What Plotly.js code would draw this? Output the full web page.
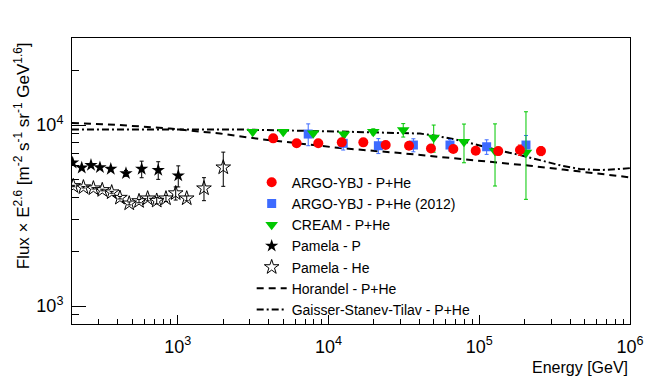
<!DOCTYPE html>
<html>
<head>
<meta charset="utf-8">
<script src="https://cdn.plot.ly/plotly-3.0.1.min.js"></script>
<style>
  body { margin: 0; background: #fff; }
  #grafico { width: 664px; height: 382px; }
</style>
</head>
<body>
<div id="grafico"></div>
<script>
// ARGO-YBJ - P+He
const argoE = [4300, 6150, 8560, 12250, 17030, 23970, 34230, 47860, 67300, 94800, 133700, 186200, 256800];
const argoF = [8444, 7927, 7927, 8023, 8023, 7755, 7686, 7413, 7365, 7206, 7178, 7275, 7178];
const argoErr = [150, 150, 150, 170, 180, 200, 220, 250, 280, 300, 350, 480, 400];

// ARGO-YBJ - P+He (2012)
const argo12E = [7340, 12530, 21430, 36590, 63970, 112000, 204200];
const argo12F = [8918, 7927, 7686, 7755, 7755, 7586, 7755];
const argo12Err = [1230, 650, 730, 640, 560, 700, 1000];

// CREAM - P+He
const creamE = [3143, 5012, 7925, 12680, 19830, 31330, 49880, 79240, 127300, 204200];
const creamF = [9183, 9183, 8996, 8884, 9183, 9383, 8530, 8087, 7178, 7050];
const creamErrUp = [200, 220, 250, 300, 350, 800, 1470, 2040, 2970, 4790];
const creamErrDown = [200, 220, 250, 300, 350, 800, 1450, 1900, 2575, 3164];

// Pamela - P
const pamPE = [201, 231, 266, 305, 360, 454, 577, 743, 1009];
const pamPF = [6190, 5810, 6010, 5835, 5715, 5410, 5715, 5640, 5250];
const pamPErr = [60, 60, 60, 60, 70, 200, 600, 630, 700];

// Pamela - He
const pamHeE = [203, 237, 276, 316, 365, 414, 477, 554, 632, 726, 836, 970, 1148, 1494, 2006];
const pamHeF = [4603, 4530, 4470, 4375, 4250, 3965, 3690, 3800, 3935, 3820, 3935, 4200, 3935, 4470, 5835];
const pamHeErr = [40, 40, 40, 45, 50, 60, 70, 80, 120, 150, 150, 350, 120, 650, 1250];

// modelos
const horE = [199, 414, 889, 1910, 3517, 6476, 11930, 29800, 52460, 78000, 131200, 217300, 359700, 604000, 1000000];
const horF = [10257, 10000, 9565, 8975, 8369, 7904, 7464, 7003, 6698, 6448, 6191, 5957, 5676, 5395, 5140];
const gstE = [199, 889, 2588, 11930, 40450, 52460, 67000, 86900, 131200, 186200, 252700, 359700, 466800, 632500, 795400, 1000000];
const gstF = [9444, 9444, 9444, 9206, 8975, 8694, 8369, 7953, 7278, 6827, 6407, 5935, 5715, 5641, 5690, 5781];

const xTickVals = [1e3, 1e4, 1e5, 1e6];
const xTickText = ['10<sup>3</sup>', '10<sup>4</sup>', '10<sup>5</sup>', '10<sup>6</sup>'];
const yTickVals = [1e3, 1e4];
const yTickText = ['10<sup>3</sup>', '10<sup>4</sup>'];

const fonte = 'Liberation Sans, Arial, Helvetica, sans-serif';

// ticks menores 2..9 em cada década
function menores(de, ate) {
    const v = [];
    for (let d = de; d < ate; d++) {
        for (let k = 2; k <= 9; k++) v.push(k * Math.pow(10, d));
    }
    return v;
}

function barras(arr, minus) {
    const e = { type: 'data', array: arr, visible: true, thickness: 1, width: 2 };
    if (minus) { e.symmetric = false; e.arrayminus = minus; }
    return e;
}

const data = [
    {
        x: horE, y: horF, name: 'Horandel - P+He', mode: 'lines', legendrank: 6,
        line: { color: 'black', width: 2, dash: '7px,5px' }
    },
    {
        x: gstE, y: gstF, name: 'Gaisser-Stanev-Tilav - P+He', mode: 'lines', legendrank: 7,
        line: { color: 'black', width: 2, dash: '7px,3px,2px,3px' }
    },
    {
        x: pamPE, y: pamPF, name: 'Pamela - P', mode: 'markers', legendrank: 4,
        marker: { symbol: 'star', size: 10, color: 'black' },
        error_y: Object.assign(barras(pamPErr), { color: 'black' })
    },
    {
        x: pamHeE, y: pamHeF, name: 'Pamela - He', mode: 'markers', legendrank: 5,
        marker: { symbol: 'star-open', size: 11, color: 'black', line: { width: 1 } },
        error_y: Object.assign(barras(pamHeErr), { color: 'black' })
    },
    {
        x: argo12E, y: argo12F, name: 'ARGO-YBJ - P+He (2012)', mode: 'markers', legendrank: 2,
        marker: { symbol: 'square', size: 9, color: '#3d6bff' },
        error_y: Object.assign(barras(argo12Err), { color: '#3d6bff' })
    },
    {
        x: creamE, y: creamF, name: 'CREAM - P+He', mode: 'markers', legendrank: 3,
        marker: { symbol: 'triangle-down', size: 11, color: '#00c800' },
        error_y: Object.assign(barras(creamErrUp, creamErrDown), { color: '#00c800' })
    },
    {
        x: argoE, y: argoF, name: 'ARGO-YBJ - P+He', mode: 'markers', legendrank: 1,
        marker: { symbol: 'circle', size: 10, color: '#ff0000' },
        error_y: Object.assign(barras(argoErr), { color: '#ff0000' })
    }
];

const layout = {
    width: 664,
    height: 382,
    margin: { l: 72, r: 34, t: 38, b: 58 },
    paper_bgcolor: '#ffffff',
    plot_bgcolor: '#ffffff',
    font: { family: fonte, color: 'black' },
    showlegend: true,
    legend: {
        x: 0.322, xanchor: 'left', y: 0.272, yanchor: 'middle',
        bgcolor: 'rgba(0,0,0,0)', font: { family: fonte, size: 14 }, tracegroupgap: 0
    },
    xaxis: {
        type: 'log',
        range: [2.299, 6],
        tickmode: 'array', tickvals: xTickVals, ticktext: xTickText,
        ticks: 'inside', ticklen: 9, tickwidth: 1, tickcolor: 'black',
        minor: { tickmode: 'array', tickvals: menores(2, 6), ticks: 'inside', ticklen: 5, tickcolor: 'black', showgrid: false },
        tickfont: { family: fonte, size: 18 },
        ticklabelstandoff: 6,
        showline: true, linecolor: 'black', linewidth: 1, mirror: true,
        showgrid: false, zeroline: false
    },
    yaxis: {
        type: 'log',
        range: [2.9006, 4.481],
        tickmode: 'array', tickvals: yTickVals, ticktext: yTickText,
        ticks: 'inside', ticklen: 14, tickwidth: 1, tickcolor: 'black',
        minor: { tickmode: 'array', tickvals: menores(2, 5), ticks: 'inside', ticklen: 7, tickcolor: 'black', showgrid: false },
        tickfont: { family: fonte, size: 18 },
        ticklabelstandoff: 4,
        showline: true, linecolor: 'black', linewidth: 1, mirror: true,
        showgrid: false, zeroline: false
    },
    annotations: [
        {
            text: 'Energy [GeV]', xref: 'paper', yref: 'paper', x: 1, y: -0.152,
            xanchor: 'right', yanchor: 'middle', showarrow: false,
            font: { family: fonte, size: 16 }
        },
        {
            text: 'Flux \u00d7 E<sup>2.6</sup> [m<sup>-2</sup> s<sup>-1</sup> sr<sup>-1</sup> GeV<sup>1.6</sup>]',
            xref: 'paper', yref: 'paper', x: -0.09, y: 0.993,
            xanchor: 'center', yanchor: 'top', textangle: -90, showarrow: false,
            font: { family: fonte, size: 17 }
        }
    ]
};

Plotly.newPlot('grafico', data, layout, { displayModeBar: false, staticPlot: true });
</script>
</body>
</html>
